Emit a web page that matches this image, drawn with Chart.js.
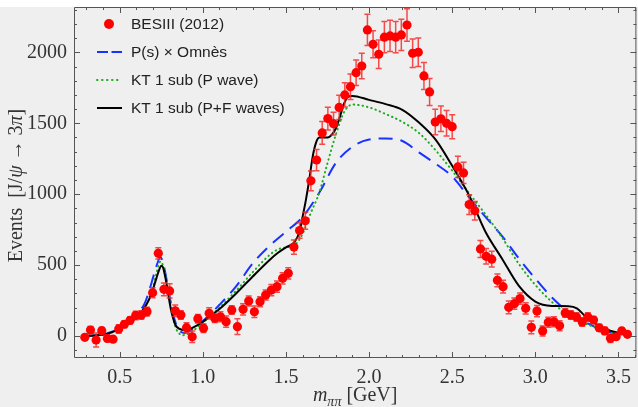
<!DOCTYPE html>
<html>
<head>
<meta charset="utf-8">
<script src="https://cdn.jsdelivr.net/npm/chart.js@4.4.1/dist/chart.umd.min.js"></script>
<style>
html, body { margin: 0; padding: 0; background: #fff; overflow: hidden; }
canvas { display: block; }
</style>
</head>
<body>
<canvas id="plot" width="641" height="407"></canvas>
<script>
// BESIII J/psi -> 3pi, pi pi invariant mass distribution
const besMass = [0.290, 0.324, 0.358, 0.392, 0.426, 0.460, 0.494, 0.528, 0.562, 0.596,
    0.630, 0.664, 0.698, 0.732, 0.766, 0.800, 0.834, 0.868, 0.902, 0.936,
    0.970, 1.004, 1.038, 1.072, 1.106, 1.140, 1.174, 1.208, 1.242, 1.276,
    1.310, 1.344, 1.378, 1.412, 1.446, 1.480, 1.514, 1.548, 1.582, 1.616,
    1.650, 1.684, 1.718, 1.752, 1.786, 1.820, 1.854, 1.888, 1.922, 1.956,
    1.990, 2.024, 2.058, 2.092, 2.126, 2.160, 2.194, 2.228, 2.262, 2.296,
    2.330, 2.364, 2.398, 2.432, 2.466, 2.500, 2.534, 2.568, 2.602, 2.636,
    2.670, 2.704, 2.738, 2.772, 2.806, 2.840, 2.874, 2.908, 2.942, 2.976,
    3.010, 3.044, 3.078, 3.112, 3.146, 3.180, 3.214, 3.248, 3.282, 3.316,
    3.350, 3.384, 3.418, 3.452, 3.486, 3.520, 3.554];
const besEvents = [-9, 42, -28, 38, -17, -22, 50, 83, 110, 145,
    148, 172, 305, 583, 329, 318, 178, 148, 59, -5,
    122, 55, 160, 125, 136, 101, 183, 66, 188, 247,
    171, 242, 289, 324, 348, 407, 442, 627, 744, 812,
    1094, 1241, 1432, 1533, 1497, 1612, 1700, 1758, 1857, 1904,
    2158, 2057, 1987, 2107, 2116, 2107, 2123, 2193, 1994, 2001,
    1834, 1721, 1509, 1532, 1500, 1476, 1192, 1150, 927, 883,
    614, 562, 542, 393, 348, 202, 228, 264, 195, 61,
    176, 36, 97, 100, 72, 162, 148, 134, 99, 134,
    113, 58, 36, -16, -5, 36, 12];
const besErrors = [15, 25, 50, 22, 22, 18, 30, 25, 25, 30,
    30, 30, 35, 40, 45, 50, 40, 30, 35, 40,
    30, 30, 40, 30, 35, 40, 30, 55, 40, 35,
    40, 35, 35, 40, 40, 40, 40, 50, 55, 60,
    70, 75, 80, 80, 80, 85, 85, 90, 90, 90,
    110, 95, 100, 110, 110, 110, 110, 115, 100, 100,
    95, 95, 90, 90, 90, 85, 75, 75, 70, 65,
    60, 55, 55, 45, 45, 45, 40, 40, 40, 45,
    40, 35, 35, 35, 35, 30, 30, 30, 30, 30,
    25, 25, 25, 30, 20, 20, 15];

// P(s) x Omnes
const omnesMass = [0.29, 0.4, 0.5, 0.6, 0.65, 0.68, 0.7, 0.72, 0.745, 0.76,
    0.78, 0.8, 0.82, 0.84, 0.87, 0.89, 0.92, 1.0, 1.1, 1.2,
    1.3, 1.4, 1.5, 1.6, 1.7, 1.8, 1.9, 2.0, 2.1, 2.2,
    2.3, 2.4, 2.5, 2.6, 2.7, 2.8, 2.9, 3.0, 3.1, 3.2,
    3.3, 3.4, 3.5, 3.55];
const omnesEvents = [0, 12, 55, 150, 230, 330, 410, 490, 555, 520,
    410, 280, 160, 80, 28, 22, 35, 105, 220, 350,
    512, 635, 735, 840, 1010, 1220, 1335, 1385, 1393, 1375,
    1295, 1215, 1125, 980, 840, 705, 548, 405, 272, 168,
    98, 45, 15, 7];

// KT 1 subtraction, P wave only
const pWaveMass = [0.29, 0.4, 0.5, 0.6, 0.65, 0.68, 0.7, 0.72, 0.745, 0.76,
    0.78, 0.8, 0.82, 0.84, 0.86, 0.88, 0.9, 0.95, 1.0, 1.1,
    1.2, 1.3, 1.4, 1.45, 1.5, 1.55, 1.6, 1.65, 1.7, 1.75,
    1.8, 1.85, 1.9, 2.0, 2.1, 2.2, 2.3, 2.4, 2.5, 2.6,
    2.7, 2.8, 2.9, 3.0, 3.1, 3.2, 3.3, 3.4, 3.5, 3.55];
const pWaveEvents = [0, 10, 48, 135, 200, 270, 340, 440, 525, 500,
    400, 260, 130, 50, 15, 6, 10, 45, 95, 200,
    320, 450, 570, 610, 625, 640, 720, 870, 1010, 1220,
    1420, 1580, 1632, 1612, 1565, 1510, 1432, 1310, 1166, 1010,
    858, 695, 510, 360, 240, 145, 88, 47, 18, 7];

// KT 1 subtraction, P + F waves
const pfWaveMass = [0.29, 0.35, 0.42, 0.47, 0.52, 0.57, 0.62, 0.66, 0.69, 0.72,
    0.74, 0.75, 0.76, 0.775, 0.79, 0.805, 0.82, 0.835, 0.86, 0.89,
    0.92, 0.96, 1.0, 1.1, 1.2, 1.3, 1.4, 1.45, 1.5, 1.55,
    1.58, 1.6, 1.62, 1.64, 1.66, 1.68, 1.7, 1.72, 1.75, 1.78,
    1.8, 1.82, 1.85, 1.87, 1.9, 2.0, 2.1, 2.2, 2.3, 2.4,
    2.5, 2.6, 2.7, 2.8, 2.9, 3.0, 3.1, 3.2, 3.25, 3.3,
    3.35, 3.4, 3.45, 3.5, 3.55];
const pfWaveEvents = [0, 4, 14, 35, 62, 100, 155, 220, 295, 405,
    475, 496, 485, 410, 310, 205, 130, 78, 50, 42,
    50, 72, 100, 190, 300, 420, 535, 585, 625, 660,
    730, 840, 960, 1100, 1260, 1360, 1400, 1400, 1400, 1425,
    1465, 1530, 1640, 1685, 1693, 1665, 1635, 1595, 1505, 1385,
    1200, 995, 735, 545, 355, 243, 212, 210, 195, 140,
    95, 60, 38, 22, 8];

const seriesNames = ['BESIII (2012)', 'P(s) \u00d7 Omn\u00e8s', 'KT 1 sub (P wave)', 'KT 1 sub (P+F waves)'];
const xTicks = [0.5, 1.0, 1.5, 2.0, 2.5, 3.0, 3.5];
const yTicks = [0, 500, 1000, 1500, 2000];

function pairs(xs, ys) {
    return xs.map((x, i) => ({ x: x, y: ys[i] }));
}

const frameColor = '#555';
const labelColor = '#333';

const bgPlugin = {
    id: 'bg',
    beforeDraw(chart) {
        const ctx = chart.ctx;
        ctx.save();
        ctx.fillStyle = '#ffffff';
        ctx.fillRect(0, 0, chart.width, chart.height);
        ctx.fillStyle = '#efefef';
        ctx.fillRect(0, chart.chartArea.top, chart.width, chart.height);
        ctx.restore();
    }
};

const errorBarPlugin = {
    id: 'errorBars',
    beforeDatasetDraw(chart, args) {
        if (args.index !== 0) return;
        const ctx = chart.ctx;
        const xs = chart.scales.x, ys = chart.scales.y;
        const a = chart.chartArea;
        ctx.save();
        ctx.beginPath();
        ctx.rect(a.left, a.top, a.right - a.left, a.bottom - a.top);
        ctx.clip();
        ctx.strokeStyle = 'rgba(245, 45, 45, 0.85)';
        ctx.lineWidth = 1.5;
        besMass.forEach((m, i) => {
            const px = xs.getPixelForValue(m);
            const top = ys.getPixelForValue(besEvents[i] + besErrors[i]);
            const bot = ys.getPixelForValue(besEvents[i] - besErrors[i]);
            ctx.beginPath();
            ctx.moveTo(px, top); ctx.lineTo(px, bot);
            ctx.moveTo(px - 3, top); ctx.lineTo(px + 3, top);
            ctx.moveTo(px - 3, bot); ctx.lineTo(px + 3, bot);
            ctx.stroke();
        });
        ctx.restore();
    }
};

// frame with inward major/minor ticks on all four sides
const framePlugin = {
    id: 'frame',
    afterDraw(chart) {
        const ctx = chart.ctx;
        const a = chart.chartArea;
        const xs = chart.scales.x, ys = chart.scales.y;
        ctx.save();
        ctx.strokeStyle = frameColor;
        ctx.lineWidth = 1;
        ctx.beginPath();
        ctx.rect(a.left + 0.5, a.top + 0.5, a.right - a.left - 1, a.bottom - a.top - 1);
        ctx.stroke();
        ctx.beginPath();
        for (let k = 3; k <= 36; k++) {
            const v = k / 10;
            const px = Math.round(xs.getPixelForValue(v)) + 0.5;
            const len = (k % 5 === 0) ? 6 : 3;
            ctx.moveTo(px, a.bottom); ctx.lineTo(px, a.bottom - len);
            ctx.moveTo(px, a.top); ctx.lineTo(px, a.top + len);
        }
        for (let k = -1; k <= 23; k++) {
            const v = k * 100;
            const py = Math.round(ys.getPixelForValue(v)) + 0.5;
            const len = (k % 5 === 0) ? 6 : 3;
            ctx.moveTo(a.left, py); ctx.lineTo(a.left + len, py);
            ctx.moveTo(a.right, py); ctx.lineTo(a.right - len, py);
        }
        ctx.stroke();
        ctx.restore();
    }
};

const legendPlugin = {
    id: 'insetLegend',
    afterDraw(chart) {
        const ctx = chart.ctx;
        const rows = [24, 52, 80, 108];
        ctx.save();
        ctx.font = '15.5px "Liberation Sans", Arial, sans-serif';
        ctx.textBaseline = 'middle';
        chart.data.datasets.forEach((ds, i) => {
            const y = rows[i];
            if (i === 0) {
                ctx.fillStyle = ds.pointBackgroundColor;
                ctx.beginPath();
                ctx.arc(109, y, 5, 0, Math.PI * 2);
                ctx.fill();
            } else {
                ctx.strokeStyle = ds.borderColor;
                ctx.lineWidth = ds.borderWidth;
                ctx.lineCap = ds.borderCapStyle || 'butt';
                ctx.setLineDash(i === 1 ? [11, 3.5] : (i === 2 ? [0.5, 4.5] : []));
                ctx.beginPath();
                ctx.moveTo(97, y); ctx.lineTo(122, y);
                ctx.stroke();
                ctx.setLineDash([]);
            }
            ctx.fillStyle = '#222';
            ctx.fillText(ds.label, 131, y + 1);
        });
        ctx.restore();
    }
};

// axis titles with italic symbols and subscript
const titlePlugin = {
    id: 'axisTitles',
    afterDraw(chart) {
        const ctx = chart.ctx;
        const a = chart.chartArea;
        const serif = '"Liberation Serif", "Times New Roman", serif';
        ctx.save();
        ctx.fillStyle = labelColor;
        ctx.textBaseline = 'alphabetic';

        const xParts = [
            { t: 'm', f: 'italic 20px ' + serif, dy: 0 },
            { t: '\u03c0\u03c0', f: 'italic 14px ' + serif, dy: 5 },
            { t: ' [GeV]', f: '20px ' + serif, dy: 0 }
        ];
        let w = 0;
        xParts.forEach(p => { ctx.font = p.f; w += ctx.measureText(p.t).width; });
        let x = (a.left + a.right) / 2 - w / 2;
        const base = 401;
        xParts.forEach(p => {
            ctx.font = p.f;
            ctx.fillText(p.t, x, base + p.dy);
            x += ctx.measureText(p.t).width;
        });

        const yParts = [
            { t: 'Events  [J/', f: '20px ' + serif },
            { t: '\u03c8', f: 'italic 20px ' + serif },
            { t: ' \u2192 3', f: '20px ' + serif },
            { t: '\u03c0', f: 'italic 20px ' + serif },
            { t: ']', f: '20px ' + serif }
        ];
        w = 0;
        yParts.forEach(p => { ctx.font = p.f; w += ctx.measureText(p.t).width; });
        ctx.translate(22, (a.top + a.bottom) / 2 + 3);
        ctx.rotate(-Math.PI / 2);
        x = -w / 2;
        yParts.forEach(p => {
            ctx.font = p.f;
            ctx.fillText(p.t, x, 0);
            x += ctx.measureText(p.t).width;
        });
        ctx.restore();
    }
};

const tickFont = { family: '"Liberation Serif", "Times New Roman", serif', size: 20 };

new Chart(document.getElementById('plot'), {
    type: 'scatter',
    data: {
        datasets: [{
            label: seriesNames[0],
            data: pairs(besMass, besEvents),
            showLine: false,
            pointRadius: 4.6,
            pointBackgroundColor: '#ff0000',
            pointBorderWidth: 0,
            order: 0
        }, {
            label: seriesNames[1],
            data: pairs(omnesMass, omnesEvents),
            showLine: true,
            pointRadius: 0,
            borderColor: 'rgb(25, 50, 255)',
            borderWidth: 2,
            borderDash: [14, 8],
            cubicInterpolationMode: 'monotone',
            order: 3
        }, {
            label: seriesNames[2],
            data: pairs(pWaveMass, pWaveEvents),
            showLine: true,
            pointRadius: 0,
            borderColor: 'rgb(30, 170, 30)',
            borderWidth: 2,
            borderDash: [0.5, 4],
            borderCapStyle: 'round',
            cubicInterpolationMode: 'monotone',
            order: 2
        }, {
            label: seriesNames[3],
            data: pairs(pfWaveMass, pfWaveEvents),
            showLine: true,
            pointRadius: 0,
            borderColor: '#000000',
            borderWidth: 2,
            cubicInterpolationMode: 'monotone',
            order: 1
        }]
    },
    options: {
        responsive: false,
        animation: false,
        devicePixelRatio: 1,
        layout: { padding: { top: 7, right: 1, left: 0, bottom: 0 } },
        plugins: {
            legend: { display: false },
            tooltip: { enabled: false }
        },
        scales: {
            x: {
                type: 'linear',
                min: 0.225,
                max: 3.608,
                grid: { display: false, drawTicks: false },
                border: { display: false },
                ticks: {
                    font: tickFont,
                    color: labelColor,
                    padding: 8,
                    maxRotation: 0,
                    callback: v => v.toFixed(1)
                },
                afterBuildTicks: s => { s.ticks = xTicks.map(v => ({ value: v })); },
                afterFit: s => { s.height = 49; s.paddingLeft = 0; s.paddingRight = 0; }
            },
            y: {
                min: -155,
                max: 2320,
                grid: { display: false, drawTicks: false },
                border: { display: false },
                ticks: {
                    font: tickFont,
                    color: labelColor,
                    padding: 7,
                    callback: v => String(v)
                },
                afterBuildTicks: s => { s.ticks = yTicks.map(v => ({ value: v })); },
                afterFit: s => { s.width = 74; s.paddingTop = 0; s.paddingBottom = 0; }
            }
        }
    },
    plugins: [bgPlugin, errorBarPlugin, framePlugin, legendPlugin, titlePlugin]
});
</script>
</body>
</html>
